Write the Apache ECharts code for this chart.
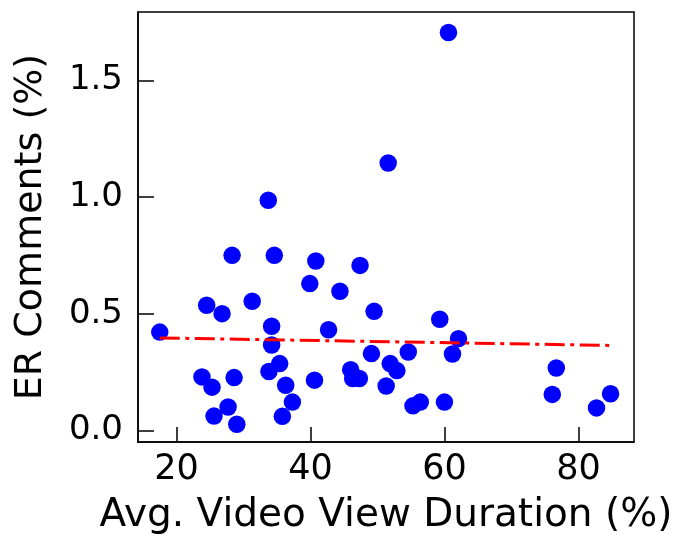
<!DOCTYPE html>
<html>
<head>
<meta charset="utf-8">
<script src="https://cdn.jsdelivr.net/npm/echarts@6/dist/echarts.min.js"></script>
<style>
  html, body { margin: 0; padding: 0; background: #fff; }
  #main { width: 681px; height: 539px; }
</style>
</head>
<body>
<div id="main"></div>
<script>
// avg. view duration (%) for each video
var durationX = [17.5, 23.8, 24.5, 25.3, 25.6, 26.8, 27.7, 28.3, 28.6, 29.0,
  31.3, 33.7, 33.8, 34.2, 34.2, 34.6, 35.4, 35.8, 36.3, 37.3,
  39.9, 40.6, 40.8, 42.7, 44.4, 46.0, 46.3, 47.3, 47.4, 49.1,
  49.5, 51.3, 51.6, 51.9, 52.9, 54.6, 55.3, 56.4, 59.3, 60.0,
  60.6, 61.2, 62.1, 76.1, 76.7, 82.7, 84.8];
// ER comments (%) for the same videos
var commentsY = [0.421, 0.229, 0.536, 0.185, 0.061, 0.50, 0.10, 0.75, 0.226, 0.026,
  0.553, 0.986, 0.252, 0.446, 0.366, 0.75, 0.286, 0.06, 0.193, 0.121,
  0.629, 0.215, 0.726, 0.431, 0.596, 0.26, 0.222, 0.222, 0.707, 0.329,
  0.51, 0.19, 1.146, 0.286, 0.256, 0.336, 0.105, 0.121, 0.476, 0.121,
  1.705, 0.327, 0.393, 0.154, 0.267, 0.096, 0.157];

// fitted trend line end points
var trendX = [17.5, 84.8];
var trendY = [0.396, 0.364];

var xTicks = [20, 40, 60, 80];
var yTicks = [0, 0.5, 1.0, 1.5];

var points = [];
for (var i = 0; i < durationX.length; i++) {
  points.push([durationX[i], commentsY[i]]);
}
var trend = [];
for (var j = 0; j < trendX.length; j++) {
  trend.push([trendX[j], trendY[j]]);
}

var font = 'DejaVu Sans';
var chart = echarts.init(document.getElementById('main'));

var option = {
  animation: false,
  backgroundColor: '#fff',
  grid: {
    left: 138, right: 47, top: 12, bottom: 97,
    show: true, borderColor: '#000', borderWidth: 1.5,
    containLabel: false,
    outerBoundsMode: 'none'
  },
  xAxis: {
    type: 'value',
    min: 14.25, max: 88.3,
    name: 'Avg. Video View Duration (%)',
    nameLocation: 'middle',
    nameGap: 54,
    nameTextStyle: { fontFamily: font, fontSize: 39, color: '#000' },
    splitLine: { show: false },
    axisLine: { show: true, onZero: false, lineStyle: { color: '#000', width: 1.5 } },
    axisTick: { show: true, inside: true, length: 15, customValues: xTicks,
      lineStyle: { color: '#000', width: 1.5 } },
    axisLabel: { customValues: xTicks, margin: 10, color: '#000',
      fontFamily: font, fontSize: 35 }
  },
  yAxis: {
    type: 'value',
    min: -0.05, max: 1.793,
    name: 'ER Comments (%)',
    nameLocation: 'middle',
    nameGap: 88,
    nameTextStyle: { fontFamily: font, fontSize: 38, color: '#000' },
    splitLine: { show: false },
    axisLine: { show: true, onZero: false, lineStyle: { color: '#000', width: 1.5 } },
    axisTick: { show: true, inside: true, length: 16, customValues: yTicks,
      lineStyle: { color: '#000', width: 1.5 } },
    axisLabel: { customValues: yTicks, margin: 15, color: '#000',
      fontFamily: font, fontSize: 34,
      formatter: function (v) { return v.toFixed(1); } }
  },
  series: [
    {
      type: 'scatter',
      data: points,
      symbolSize: 17.5,
      itemStyle: { color: '#0000ff', opacity: 1 },
      z: 2
    },
    {
      type: 'line',
      data: trend,
      symbol: 'none',
      lineStyle: { color: '#ff0000', width: 3, type: [20, 5.5, 4, 5.5] },
      z: 3
    }
  ]
};
chart.setOption(option);
</script>
</body>
</html>
